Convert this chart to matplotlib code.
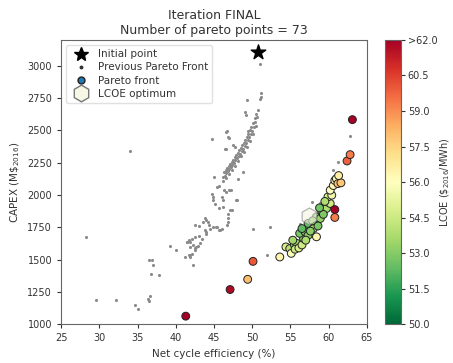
import matplotlib
matplotlib.use("Agg")
import matplotlib.pyplot as plt
from matplotlib.lines import Line2D
from matplotlib.colors import Normalize
from matplotlib.cm import ScalarMappable

# Starting design
initial_eff = [50.8]
initial_capex = [3105]

# Dense part of the previous Pareto front
band_eff = [46.2, 46.4, 46.6, 46.8, 47.0, 47.2, 47.4, 47.6, 47.8, 48.0, 48.2, 48.4,
            48.6, 48.8, 49.0, 49.2, 49.4, 49.6, 49.8, 50.0, 50.2, 50.4, 50.6,
            46.3, 46.5, 46.7, 46.9, 47.1, 47.3, 47.5, 47.7, 47.9, 48.1, 48.3,
            48.5, 48.7, 48.9, 49.1, 49.3, 49.5, 49.7, 49.9, 50.1, 50.3, 50.5,
            46.5, 46.9, 47.3, 47.7, 48.1, 48.5, 48.9, 49.3, 49.7, 50.1, 50.5]
band_capex = [2140, 2150, 2168, 2182, 2200, 2215, 2232, 2250, 2268, 2285, 2302, 2320,
              2338, 2358, 2378, 2400, 2422, 2446, 2470, 2498, 2528, 2562, 2600,
              2175, 2190, 2205, 2222, 2238, 2255, 2272, 2290, 2308, 2326, 2345,
              2365, 2385, 2405, 2428, 2450, 2475, 2500, 2528, 2558, 2592, 2630,
              2135, 2165, 2195, 2228, 2262, 2298, 2335, 2375, 2420, 2470, 2530]

# Scattered points of the previous Pareto front
prev_eff = [28.3, 29.6, 32.2, 34.0, 34.6, 35.1, 36.4, 36.6, 36.5, 36.5, 36.9, 37.0,
            36.7, 37.8, 39.2, 40.0, 41.2, 41.4, 41.7, 41.9, 42.2, 42.5, 43.0, 42.5,
            42.9, 43.2, 43.4, 43.8, 44.3, 44.0, 44.7, 44.9, 44.9, 45.1, 44.7, 45.0,
            45.3, 45.6, 45.4, 46.0, 46.2, 46.2, 46.8, 46.8, 46.8, 46.7, 46.6, 46.8,
            46.6, 47.5, 47.9, 47.1, 48.1, 45.7, 46.2, 46.3, 46.6, 46.9, 47.2, 48.8,
            45.7, 47.3, 48.0, 43.6, 44.0, 44.2, 43.8, 44.0, 44.5, 44.9, 45.4, 45.8,
            46.0, 50.1, 41.9, 42.1, 42.5, 43.0, 51.0, 51.1, 51.0, 49.3, 50.7, 49.1,
            49.2, 46.7, 46.9, 46.4, 47.7, 49.5, 51.2, 62.8, 61.2, 60.5, 57.8, 56.2,
            52.3, 51.9, 58.8, 59.3, 41.9, 42.3, 42.7, 42.5, 42.1, 41.7, 41.9, 41.4]
prev_capex = [1674, 1190, 1190, 2343, 1147, 1121, 1198, 1215, 1182, 1500, 1494, 1455,
              1391, 1378, 1607, 1571, 1520, 1638, 1650, 1533, 1455, 1764, 1757, 1586,
              1604, 1625, 1663, 1819, 1764, 1700, 2008, 1985, 1958, 1932, 2435, 2139,
              1754, 1726, 2062, 1983, 1958, 1906, 1855, 1818, 1790, 1764, 2487, 2450,
              2358, 2384, 1958, 1880, 2126, 2069, 2108, 2041, 2024, 2037, 2042, 2177,
              1900, 1880, 1963, 1790, 1805, 1790, 1726, 1715, 1740, 1749, 1754, 1726,
              1740, 1734, 1638, 1663, 1671, 1680, 3015, 2789, 2745, 2737, 2654, 2641,
              2622, 2498, 2439, 2358, 2371, 2498, 2757, 2459, 2254, 2195, 1946, 1779,
              1753, 1533, 1934, 1965, 1598, 1611, 1598, 1571, 1546, 1533, 1520, 1637]

# Current Pareto front with LCOE
pareto_eff = [41.3, 47.1, 49.4, 50.1, 53.6, 54.4, 54.9, 55.1, 55.5, 55.8, 55.6, 56.1,
              56.5, 56.7, 56.2, 56.9, 57.3, 57.0, 58.4, 57.8, 57.3, 58.2, 58.0, 58.4,
              58.9, 59.1, 59.4, 59.7, 59.8, 60.2, 59.9, 60.4, 60.8, 60.8, 60.2, 60.6,
              60.8, 61.0, 61.2, 61.6, 61.3, 62.4, 62.8, 63.1, 57.9, 58.6, 59.3, 56.5,
              57.6, 55.3, 58.8, 59.5]
pareto_capex = [1062, 1268, 1347, 1486, 1520, 1598, 1585, 1548, 1615, 1626, 1580, 1590,
                1613, 1664, 1703, 1715, 1687, 1650, 1676, 1753, 1780, 1780, 1740, 1831,
                1818, 1869, 1908, 1895, 1946, 1934, 1985, 1998, 1887, 1826, 2037, 2073,
                2112, 2126, 2088, 2094, 2150, 2263, 2312, 2583, 1800, 1760, 1850, 1740,
                1720, 1650, 1900, 1950]
pareto_lcoe = [62.5, 61.8, 58.0, 60.0, 56.4, 54.8, 54.0, 55.8, 53.2, 53.5, 54.5, 54.8,
               54.5, 53.0, 52.8, 52.6, 53.2, 53.8, 56.3, 52.8, 52.5, 53.0, 53.5, 53.0,
               53.3, 53.2, 53.5, 53.8, 54.0, 54.5, 54.8, 55.5, 62.5, 59.3, 56.0, 56.3,
               56.5, 56.2, 58.0, 57.8, 56.6, 59.8, 59.3, 62.5, 53.0, 52.8, 52.9, 52.3,
               53.1, 53.6, 52.7, 53.8]

# Design with the lowest LCOE
optimum_eff = [57.4]
optimum_capex = [1835]

cbar_ticks = [50.0, 51.5, 53.0, 54.5, 56.0, 57.5, 59.0, 60.5, 62.0]
cbar_labels = ["50.0", "51.5", "53.0", "54.5", "56.0", "57.5", "59.0", "60.5", ">62.0"]

text_color = "#333333"
plt.rcParams.update({
    "font.family": "DejaVu Sans",
    "font.size": 7,
    "text.color": text_color,
    "axes.labelcolor": text_color,
    "xtick.color": text_color,
    "ytick.color": text_color,
    "axes.edgecolor": "#666666",
})

fig = plt.figure(figsize=(4.53, 3.63), dpi=100)
ax = fig.add_axes([0.135, 0.107, 0.675, 0.783])
cax = fig.add_axes([0.850, 0.107, 0.035, 0.783])

norm = Normalize(vmin=50.0, vmax=62.0)
cmap = plt.get_cmap("RdYlGn_r")

ax.scatter(band_eff, band_capex, s=5, color="#8a8a8a", linewidths=0, zorder=2)
ax.scatter(prev_eff, prev_capex, s=5, color="#8a8a8a", linewidths=0, zorder=2)
ax.scatter(pareto_eff, pareto_capex, c=pareto_lcoe, cmap=cmap, norm=norm, s=32,
           edgecolors="#222222", linewidths=0.7, zorder=3)
ax.scatter(optimum_eff, optimum_capex, marker="h", s=150, facecolor="#f4f4e4",
           edgecolors="#777777", linewidths=0.8, alpha=0.6, zorder=4)
ax.scatter(initial_eff, initial_capex, marker="*", s=120, color="black", zorder=5)

ax.set_xlim(25, 65)
ax.set_ylim(1000, 3200)
ax.set_xticks(range(25, 66, 5))
ax.set_yticks(range(1000, 3001, 250))
ax.tick_params(labelsize=7, length=3)
ax.set_xlabel("Net cycle efficiency (%)", fontsize=7.5)
ax.set_ylabel(r"CAPEX (M\$$_{2016}$)", fontsize=7.5)
ax.set_title("Iteration FINAL\nNumber of pareto points = 73", fontsize=9, pad=4,
             color=text_color)

handles = [
    Line2D([], [], marker="*", linestyle="none", color="black", markersize=10),
    Line2D([], [], marker="o", linestyle="none", color="#333333", markersize=1.8),
    Line2D([], [], marker="o", linestyle="none", markerfacecolor="#1f77b4",
           markeredgecolor="#222222", markersize=5),
    Line2D([], [], marker="h", linestyle="none", markerfacecolor="#f7f7e6",
           markeredgecolor="#777777", markersize=12),
]
labels = ["Initial point", "Previous Pareto Front", "Pareto front", "LCOE optimum"]
ax.legend(handles, labels, loc="upper left", fontsize=7.5, frameon=True,
          framealpha=0.9, edgecolor="#dddddd", handletextpad=0.6,
          borderpad=0.4, labelspacing=0.3)

sm = ScalarMappable(norm=norm, cmap=cmap)
cb = fig.colorbar(sm, cax=cax, ticks=cbar_ticks)
cb.ax.set_yticklabels(cbar_labels)
cb.ax.tick_params(labelsize=7, length=3, pad=2)
cb.outline.set_edgecolor("#666666")
cb.set_label(r"LCOE (\$$_{2016}$/MWh)", fontsize=7, labelpad=1)

fig.savefig("out.png", dpi=100)
